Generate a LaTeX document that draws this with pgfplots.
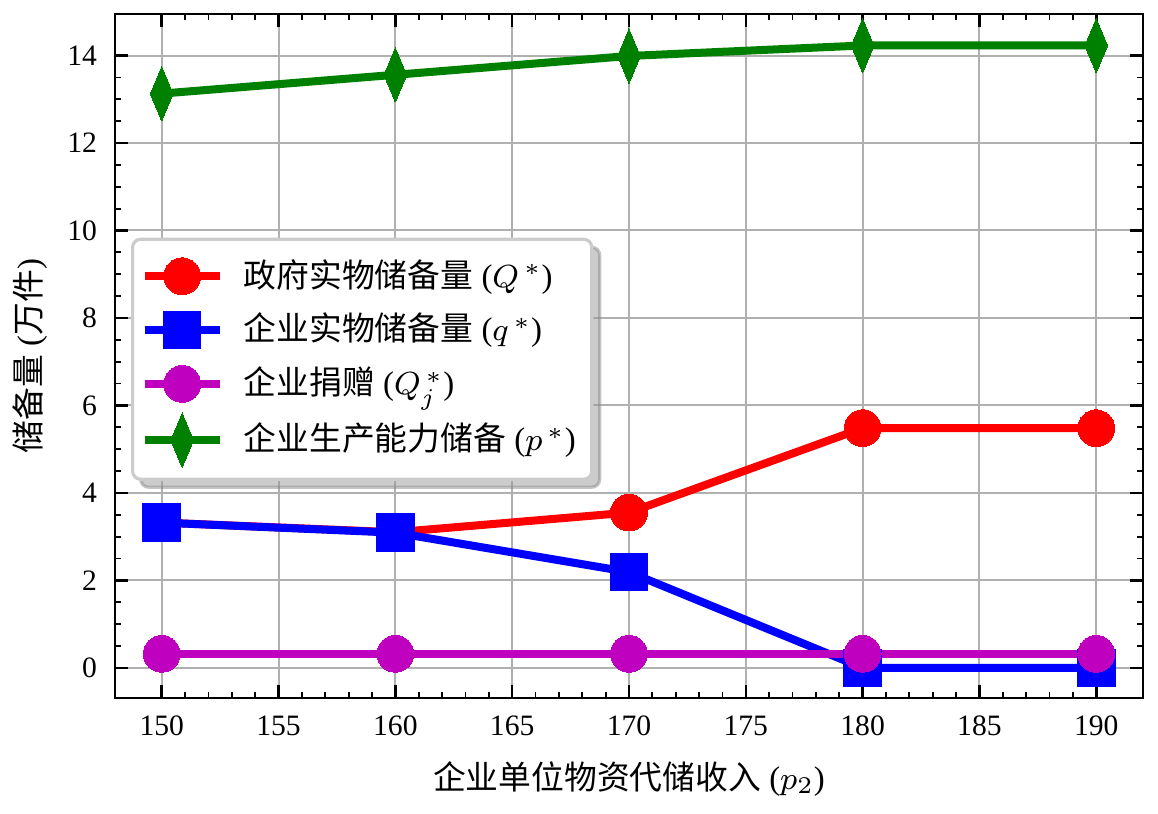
\documentclass[border=0pt]{standalone}
\usepackage{fontspec}
\setmainfont{Liberation Serif}
\newfontfamily\cjk{Noto Sans CJK SC}
\usepackage{pgfplots}
\pgfplotsset{compat=1.18}
\usetikzlibrary{shadows}
\makeatletter
\tikzset{nopreaction/.code={\let\tikz@preactions\pgfutil@empty}}
\makeatother
\definecolor{cred}{RGB}{255,0,0}
\definecolor{cblue}{RGB}{0,0,255}
\definecolor{cmag}{RGB}{191,0,191}
\definecolor{cgreen}{RGB}{0,128,0}
\definecolor{cgrid}{RGB}{176,176,176}
\definecolor{clegedge}{RGB}{204,204,204}
\newcommand{\fs}{\fontsize{7.4}{9}\selectfont}
\newcommand{\fl}{\fontsize{8.2}{10}\selectfont}
\begin{document}
\begin{tikzpicture}
\begin{axis}[
  at={(0,0)}, anchor=south west,
  scale only axis, width=257pt, height=171pt,
  xmin=148, xmax=192, ymin=-0.69, ymax=14.95,
  xtick={150,155,...,190}, ytick={0,2,...,14},
  minor x tick num=4, minor y tick num=3,
  tick align=inside, xtick pos=both, ytick pos=both,
  major tick length=3.25pt, minor tick length=1.6pt,
  every major tick/.append style={line width=0.65pt, black},
  every minor tick/.append style={line width=0.45pt, black},
  axis line style={line width=0.7pt},
  grid=major, major grid style={cgrid, line width=0.5pt},
  /pgf/number format/assume math mode=true,
  ticklabel style={font=\fs},
  xticklabel style={yshift=-1pt},
  yticklabel style={xshift=-1pt},
  xlabel={{\cjk 企业单位物资代储收入} ($p_2$)},
  ylabel={{\cjk 储备量} ({\cjk 万件})},
  label style={font=\fl},
  xlabel style={yshift=0.5pt},
  ylabel style={yshift=-1.8pt},
  legend cell align=left,
  legend style={at={(0.0156,0.673)}, anchor=north west, font=\fl,
    draw=clegedge, line width=0.8pt, rounded corners=2pt, fill=white,
    drop shadow={shadow xshift=2pt, shadow yshift=-2pt, fill=gray!80, draw=gray!90},
    row sep=1.0pt, inner xsep=2pt, inner ysep=3pt},
  legend image code/.code={
    \draw[mark repeat=2, mark phase=2, nopreaction, sharp corners, #1]
      plot coordinates {(0cm,0cm) (0.33cm,0cm) (0.66cm,0cm)};
  },
  every axis plot/.append style={line width=2pt},
]
\addplot[cred, mark=*, mark size=4.6pt, mark options={solid, fill=cred, draw=cred, line width=0pt}]
  coordinates {(150,3.32) (160,3.10) (170,3.55) (180,5.48) (190,5.48)};
\addlegendentry{\hspace*{3pt}{\cjk 政府实物储备量} ($Q^{\,*}$)}
\addplot[cblue, mark=square*, mark size=4.7pt, mark options={solid, fill=cblue, draw=cblue, line width=0pt}]
  coordinates {(150,3.32) (160,3.09) (170,2.19) (180,0) (190,0)};
\addlegendentry{\hspace*{3pt}{\cjk 企业实物储备量} ($q^{\,*}$)}
\addplot[cmag, mark=*, mark size=4.6pt, mark options={solid, fill=cmag, draw=cmag, line width=0pt}]
  coordinates {(150,0.32) (160,0.32) (170,0.32) (180,0.32) (190,0.32)};
\addlegendentry{\hspace*{3pt}{\cjk 企业捐赠} ($Q_j^{\,*}$)}
\addplot[cgreen, mark=diamond*, mark size=6.8pt, mark options={solid, fill=cgreen, draw=cgreen, line width=0pt, xscale=0.56}]
  coordinates {(150,13.13) (160,13.56) (170,13.99) (180,14.23) (190,14.23)};
\addlegendentry{\hspace*{3pt}{\cjk 企业生产能力储备} ($p^{\,*}$)}
\end{axis}
\pgfresetboundingbox
\path (-28.75pt,-29pt) rectangle (260.75pt,174.5pt);
\end{tikzpicture}
\end{document}
